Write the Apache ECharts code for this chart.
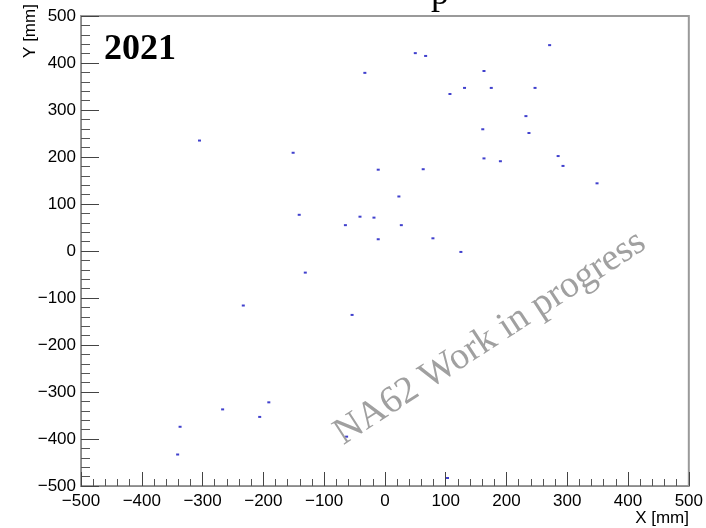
<!DOCTYPE html>
<html>
<head>
<meta charset="utf-8">
<script src="https://cdn.jsdelivr.net/npm/echarts@6/dist/echarts.min.js"></script>
<style>
html,body{margin:0;padding:0;background:#fff;}
#c{width:706px;height:528px;}
</style>
</head>
<body>
<div id="c"></div>
<script>
// Data (X [mm], Y [mm])
const xValues = [-33, -305, -151, -11, 23, -141, -41, -18, 50, 67, 271, 163, 131, 175, 247, 107, 232, 161, 237, 163, 190, 285, 293, 63, 349, -65, 27, -11, 79, 125, -131, -233, -54, -191, -267, -206, -337, -341, -63, 103];
const yValues = [379, 235, 209, 173, 116, 77, 73, 71, 421, 415, 438, 383, 347, 347, 347, 334, 287, 259, 251, 197, 191, 202, 181, 174, 144, 55, 55, 25, 27, -2, -46, -116, -136, -322, -337, -353, -374, -433, -395, -483];
const axisTicks = [-500, -400, -300, -200, -100, 0, 100, 200, 300, 400, 500];
const xTitle = 'X [mm]';
const yTitle = 'Y [mm]';
const yearLabel = '2021';
const watermark = 'NA62 Work in progress';

const points = xValues.map((x, i) => [x, yValues[i]]);
const fmt = v => String(v).replace('-', '\u2212');

const chart = echarts.init(document.getElementById('c'), null, {renderer: 'canvas'});
const sans = 'Liberation Sans, Arial, Helvetica, sans-serif';
const serif = 'Liberation Serif, Times New Roman, serif';

function axisCommon(tickLen, minorLen) {
  return {
    type: 'value',
    min: axisTicks[0],
    max: axisTicks[axisTicks.length - 1],
    interval: axisTicks[1] - axisTicks[0],
    axisLine: {show: true, onZero: false, lineStyle: {color: '#8a8a8a', width: 1}},
    axisTick: {show: true, inside: true, length: tickLen, lineStyle: {color: '#444', width: 1}},
    minorTick: {show: true, splitNumber: 5, length: minorLen, lineStyle: {color: '#555', width: 1}},
    splitLine: {show: false},
    minorSplitLine: {show: false},
    axisLabel: {formatter: fmt, color: '#000', fontSize: 17, fontFamily: sans}
  };
}

const xAxis = axisCommon(14, 7);
xAxis.axisLabel.margin = 7;
const yAxis = axisCommon(18, 9);
yAxis.axisLabel.margin = 5;

chart.setOption({
  backgroundColor: '#fff',
  animation: false,
  grid: {left: 81, right: 17, top: 16, bottom: 42, show: true, borderColor: '#9a9a9a', borderWidth: 2, containLabel: false},
  xAxis: xAxis,
  yAxis: yAxis,
  series: [{
    type: 'scatter',
    data: points,
    symbol: 'rect',
    symbolSize: [3, 2],
    itemStyle: {color: '#1010c0'},
    z: 5
  }],
  graphic: [
    {type: 'text', x: 689, y: 518, style: {text: xTitle, textAlign: 'right', textVerticalAlign: 'middle', fontSize: 17, fontFamily: sans, fill: '#000'}},
    {type: 'text', x: 30, y: 31, rotation: Math.PI / 2, style: {text: yTitle, textAlign: 'center', textVerticalAlign: 'middle', fontSize: 17, fontFamily: sans, fill: '#000'}},
    {type: 'text', x: 104, y: 32, style: {text: yearLabel, textAlign: 'left', textVerticalAlign: 'top', fontSize: 36, fontWeight: 'bold', fontFamily: serif, fill: '#000'}},
    {type: 'text', x: 431, y: 13, style: {text: 'p', textAlign: 'left', textVerticalAlign: 'bottom', fontSize: 36, fontFamily: serif, fill: '#000'}},
    {type: 'text', x: 490, y: 338, rotation: 33 * Math.PI / 180, z: 10, style: {text: watermark, textAlign: 'center', textVerticalAlign: 'middle', fontSize: 38, fontFamily: serif, fill: '#a0a0a0'}}
  ]
});
</script>
</body>
</html>
